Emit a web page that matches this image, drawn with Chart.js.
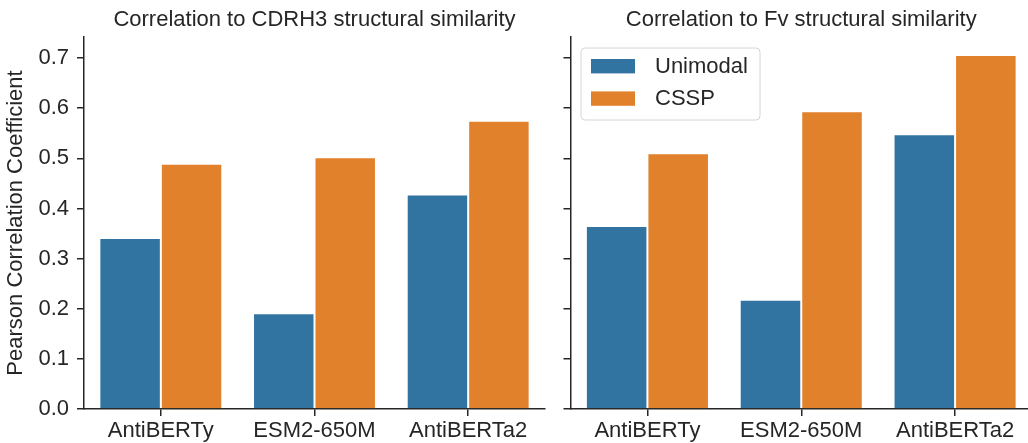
<!DOCTYPE html>
<html>
<head>
<meta charset="utf-8">
<script src="https://cdn.jsdelivr.net/npm/chart.js@4.4.0/dist/chart.umd.min.js"></script>
<style>
  html, body { margin: 0; padding: 0; background: #fff; overflow: hidden; }
  #wrap { position: relative; width: 1028px; height: 443px; overflow: hidden; }
  #left { position: absolute; left: 0; top: 0; }
  #right { position: absolute; left: 546px; top: 0; }
</style>
</head>
<body>
<div id="wrap">
  <canvas id="left" width="546" height="443"></canvas>
  <canvas id="right" width="490" height="443"></canvas>
</div>
<script>
// data
var models = ["AntiBERTy", "ESM2-650M", "AntiBERTa2"];
var seriesNames = ["Unimodal", "CSSP"];
var cdrh3Unimodal = [0.341, 0.191, 0.428];
var cdrh3Cssp = [0.489, 0.502, 0.575];
var fvUnimodal = [0.365, 0.218, 0.548];
var fvCssp = [0.510, 0.594, 0.706];
var yTicks = [0, 0.1, 0.2, 0.3, 0.4, 0.5, 0.6, 0.7];

var BLUE = "#3274a1";
var ORANGE = "#e1812c";
var INK = "#262626";

Chart.defaults.font.family = "'Liberation Sans', Arial, sans-serif";
Chart.defaults.font.size = 22;
Chart.defaults.color = INK;

// legend with a frame, placed inside the plot area (top-left)
var boxLegend = {
  id: "boxLegend",
  afterDatasetsDraw: function(chart, args, opts) {
    if (!opts.show) return;
    var ctx = chart.ctx;
    var ca = chart.chartArea;
    var x = ca.left + 10.5, y = ca.top + 11, w = 179, h = 72, r = 4;
    ctx.save();
    ctx.beginPath();
    ctx.moveTo(x + r, y);
    ctx.arcTo(x + w, y, x + w, y + h, r);
    ctx.arcTo(x + w, y + h, x, y + h, r);
    ctx.arcTo(x, y + h, x, y, r);
    ctx.arcTo(x, y, x + w, y, r);
    ctx.closePath();
    ctx.fillStyle = "rgba(255,255,255,0.8)";
    ctx.fill();
    ctx.strokeStyle = "#d6d6d6";
    ctx.lineWidth = 1;
    ctx.stroke();
    chart.data.datasets.forEach(function(ds, i) {
      var py = ca.top + 22 + i * 32.4;
      ctx.fillStyle = ds.backgroundColor;
      ctx.fillRect(ca.left + 20.5, py, 44, 14.4);
      ctx.fillStyle = INK;
      ctx.font = "22px 'Liberation Sans', Arial, sans-serif";
      ctx.textBaseline = "middle";
      ctx.textAlign = "left";
      ctx.fillText(ds.label, ca.left + 84.5, py + 7.5);
    });
    ctx.restore();
  }
};

function panel(id, title, unimodal, cssp, isLeft) {
  var ctx = document.getElementById(id).getContext("2d");
  return new Chart(ctx, {
    type: "bar",
    data: {
      labels: models,
      datasets: [{
        label: seriesNames[0],
        data: unimodal,
        backgroundColor: BLUE,
        borderColor: "rgba(255,255,255,0.7)",
        borderWidth: 1
      }, {
        label: seriesNames[1],
        data: cssp,
        backgroundColor: ORANGE,
        borderColor: "rgba(255,255,255,0.7)",
        borderWidth: 1
      }]
    },
    options: {
      responsive: false,
      animation: false,
      categoryPercentage: 0.8,
      barPercentage: 1.0,
      layout: { padding: { left: 0, right: isLeft ? 1 : 4, top: 0, bottom: 0 } },
      plugins: {
        legend: { display: false },
        tooltip: { enabled: false },
        title: {
          display: true,
          text: title,
          fullSize: false,
          color: INK,
          font: { size: 22, weight: "normal" },
          padding: { top: 7, bottom: 3.6 }
        },
        boxLegend: { show: !isLeft }
      },
      scales: {
        x: {
          grid: {
            display: true,
            offset: false,
            drawOnChartArea: false,
            drawTicks: true,
            tickLength: 7,
            color: INK,
            lineWidth: 1.5
          },
          border: { display: true, color: INK, width: 1.5 },
          ticks: { color: INK, padding: 2, maxRotation: 0, font: { size: 22 } },
          afterFit: function(scale) { scale.height = 34; }
        },
        y: {
          min: 0,
          max: 0.742,
          afterBuildTicks: function(scale) {
            scale.ticks = yTicks.map(function(v) { return { value: v }; });
          },
          grid: {
            display: true,
            drawOnChartArea: false,
            drawTicks: true,
            tickLength: 7,
            color: INK,
            lineWidth: 1.5
          },
          border: { display: true, color: INK, width: 1.5 },
          ticks: {
            display: isLeft,
            color: INK,
            padding: 8,
            font: { size: 22 },
            callback: function(v) { return Number(v).toFixed(1); }
          },
          title: {
            display: isLeft,
            text: "Pearson Correlation Coefficient",
            color: INK,
            font: { size: 22 },
            padding: { top: 3, bottom: 0 }
          },
          afterFit: function(scale) { scale.width = isLeft ? 84 : 24.5; }
        }
      }
    },
    plugins: [boxLegend]
  });
}

panel("left", "Correlation to CDRH3 structural similarity", cdrh3Unimodal, cdrh3Cssp, true);
panel("right", "Correlation to Fv structural similarity", fvUnimodal, fvCssp, false);
</script>
</body>
</html>
